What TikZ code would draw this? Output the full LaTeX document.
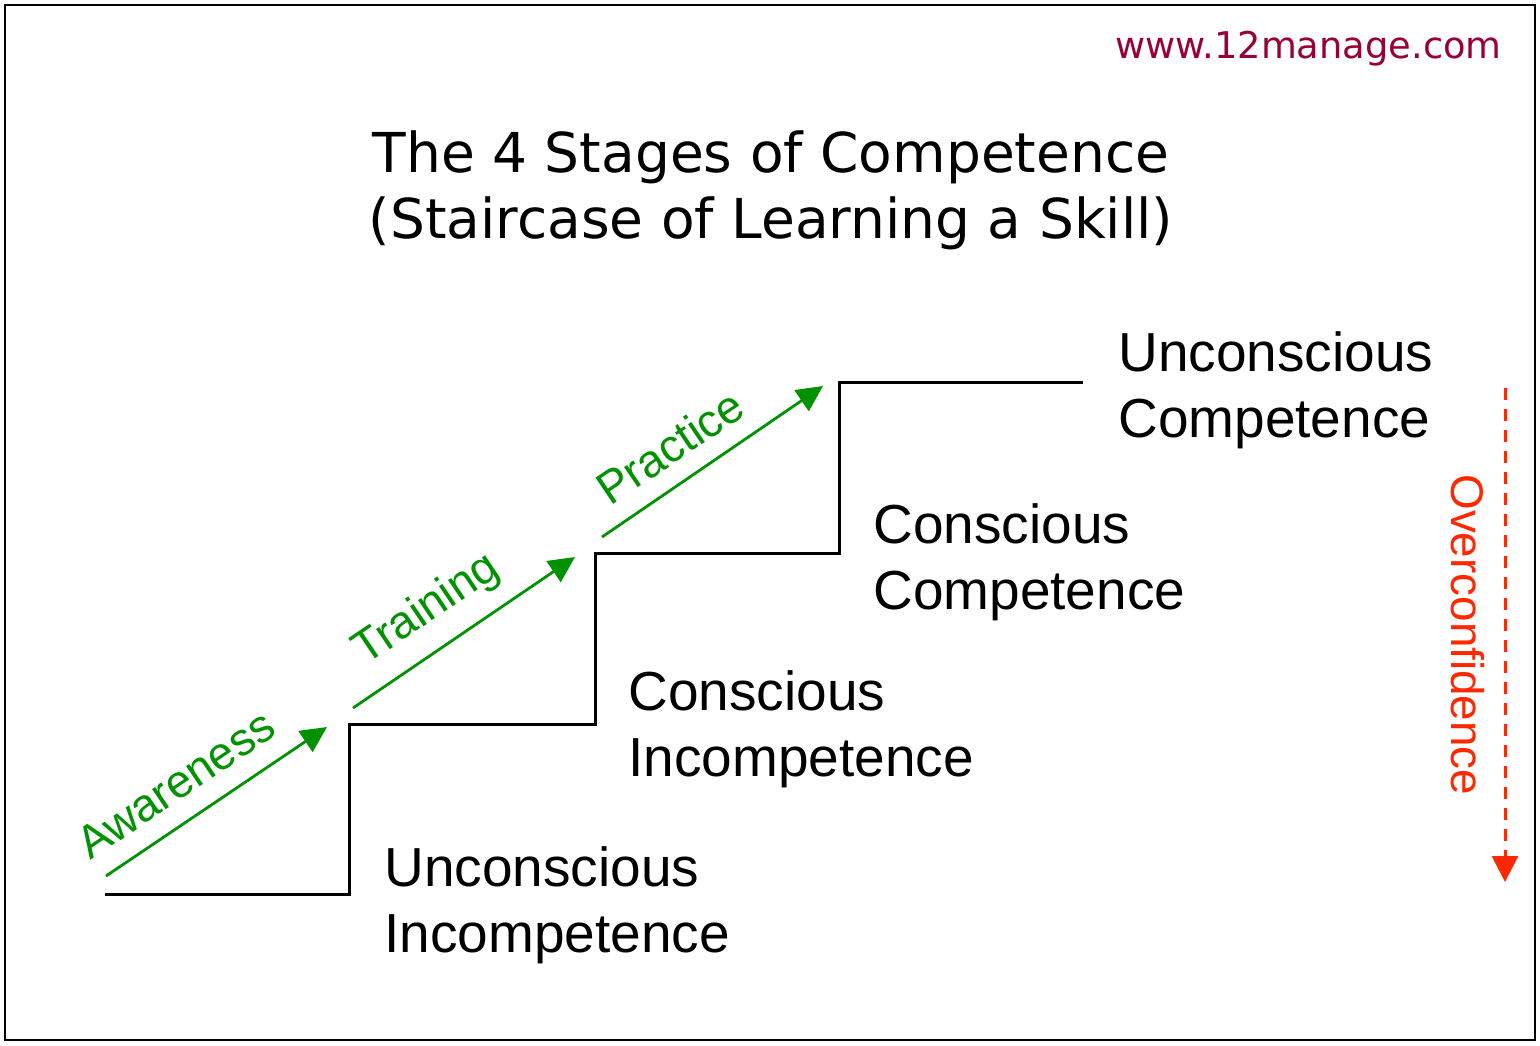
\documentclass[tikz,border=0pt]{standalone}
\usepackage{fontspec}
\setmainfont{Liberation Sans}
\newfontfamily\verd{DejaVu Sans}
\usetikzlibrary{arrows.meta}
\definecolor{stairgreen}{RGB}{0,146,0}
\definecolor{ocred}{RGB}{255,40,0}
\definecolor{urlred}{RGB}{153,0,51}
\tikzset{
  stair/.style={line width=1.5pt, black, line join=miter},
  grarrow/.style={line width=1.4pt, stairgreen, -{Triangle[length=13pt,width=12.5pt]}},
  grlabel/.style={stairgreen, font=\fontsize{23}{27}\selectfont, inner sep=0pt, anchor=base west, rotate=34},
  stage/.style={font=\fontsize{27.5}{33}\selectfont, inner sep=0pt, anchor=base west, align=left},
}
\begin{document}
\begin{tikzpicture}[x=0.5pt,y=-0.5pt]
\useasboundingbox (0,0) rectangle (1540,1045);
\draw[line width=1.25pt] (5,5) rectangle (1535,1040);
% title and url
\node[font=\verd\fontsize{18.4}{22}\selectfont, text=urlred, anchor=base east, inner sep=0pt] (url) at (1502,58) {www.12manage.com};
\node[font=\verd\fontsize{27.5}{33}\selectfont, anchor=base, inner sep=0pt, align=center] (title) at (771,238) {The 4 Stages of Competence\\(Staircase of Learning a Skill)};
% staircase
\coordinate (s0) at (105,894);
\coordinate (s1) at (349,894);
\coordinate (s2) at (349,724);
\coordinate (s3) at (595,724);
\coordinate (s4) at (595,553);
\coordinate (s5) at (839,553);
\coordinate (s6) at (839,382);
\coordinate (s7) at (1083,382);
\draw[stair] (s0) -- (s1) -- (s2) -- (s3) -- (s4) -- (s5) -- (s6) -- (s7);
% green arrows
\coordinate (a1s) at (106,876); \coordinate (a1e) at (327,727);
\coordinate (a2s) at (353,708); \coordinate (a2e) at (575,557);
\coordinate (a3s) at (602,537); \coordinate (a3e) at (823,386);
\draw[grarrow] (a1s) -- (a1e);
\draw[grarrow] (a2s) -- (a2e);
\draw[grarrow] (a3s) -- (a3e);
\node[grlabel] (aw) at (90,861) {Awareness};
\node[grlabel] (tr) at (365,666) {Training};
\node[grlabel] (pr) at (610,507) {Practice};
% stage labels
\node[stage] (uc) at (1118,437) {Unconscious\\Competence};
\node[stage] (cc) at (873,609) {Conscious\\Competence};
\node[stage] (ci) at (628,776) {Conscious\\Incompetence};
\node[stage] (ui) at (384,952) {Unconscious\\Incompetence};
% overconfidence
\coordinate (oc1) at (1505,388);
\coordinate (oc2) at (1505,882);
\draw[ocred, line width=1.5pt, dash pattern=on 6pt off 4.5pt, -{Triangle[length=13pt,width=13pt]}] (oc1) -- (oc2);
\node[ocred, font=\fontsize{22.9}{27}\selectfont, inner sep=0pt, anchor=base west, rotate=-90] (oc) at (1451,474) {Overconfidence};
\end{tikzpicture}
\end{document}
